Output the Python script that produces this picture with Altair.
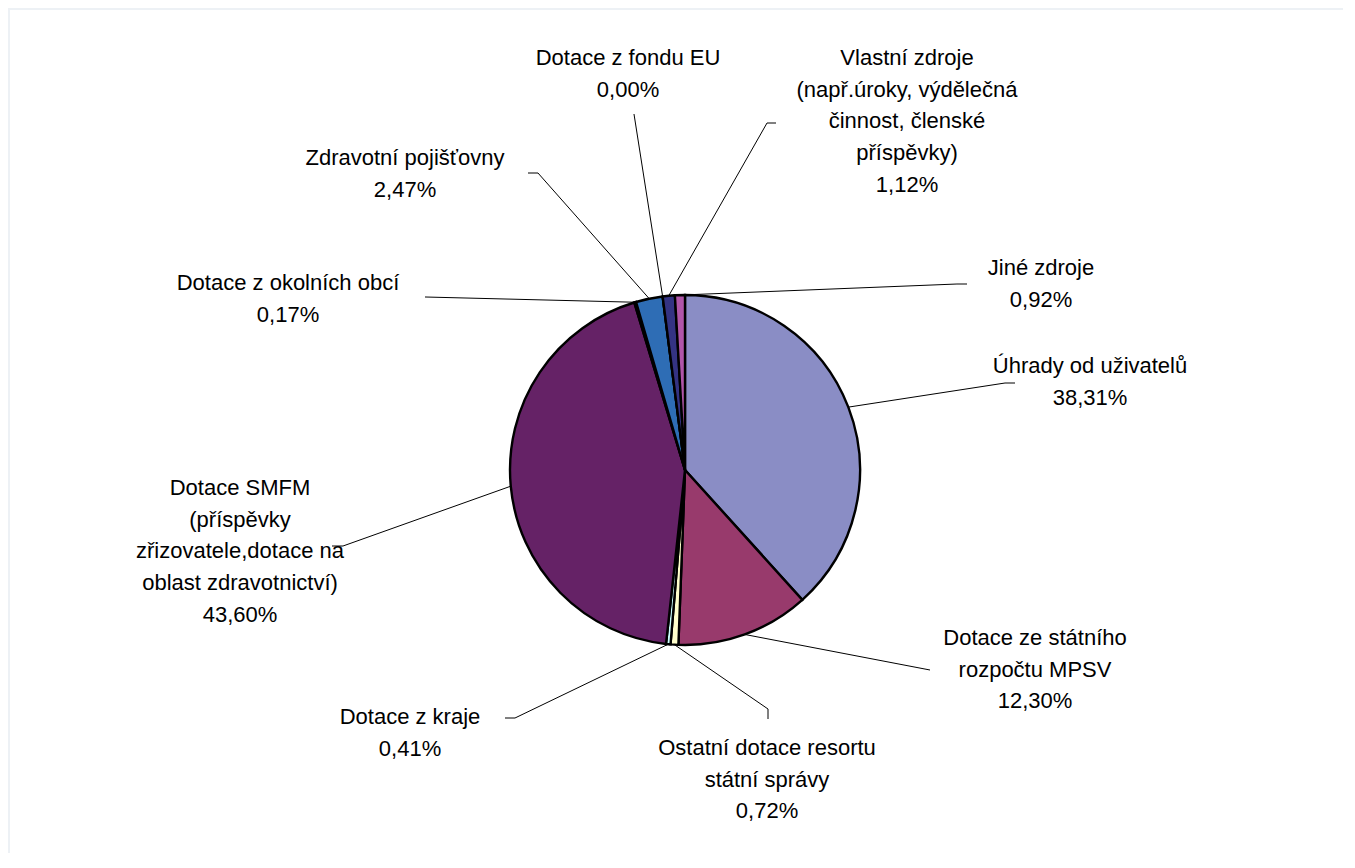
import math
import altair as alt
import pandas as pd

# ---- data -------------------------------------------------------------
categories = [
    "Úhrady od uživatelů",
    "Dotace ze státního rozpočtu MPSV",
    "Ostatní dotace resortu státní správy",
    "Dotace z kraje",
    "Dotace SMFM (příspěvky zřizovatele,dotace na oblast zdravotnictví)",
    "Dotace z okolních obcí",
    "Zdravotní pojišťovny",
    "Dotace z fondu EU",
    "Vlastní zdroje (např.úroky, výdělečná činnost, členské příspěvky)",
    "Jiné zdroje",
]
values = [38.31, 12.30, 0.72, 0.41, 43.60, 0.17, 2.47, 0.00, 1.12, 0.92]
label_texts = [
    "Úhrady od uživatelů\n38,31%",
    "Dotace ze státního\nrozpočtu MPSV\n12,30%",
    "Ostatní dotace resortu\nstátní správy\n0,72%",
    "Dotace z kraje\n0,41%",
    "Dotace SMFM\n(příspěvky\nzřizovatele,dotace na\noblast zdravotnictví)\n43,60%",
    "Dotace z okolních obcí\n0,17%",
    "Zdravotní pojišťovny\n2,47%",
    "Dotace z fondu EU\n0,00%",
    "Vlastní zdroje\n(např.úroky, výdělečná\nčinnost, členské\npříspěvky)\n1,12%",
    "Jiné zdroje\n0,92%",
]
colors = ["#8A8DC5", "#983A6C", "#FFFFCC", "#CCFFFF", "#652266",
          "#E07878", "#2E6DB5", "#CCCCFF", "#343383", "#B055A8"]

# ---- layout (chart pixel coordinates; page = chart + 8) ---------------
W, H = 1335, 845
CX, CY, R = 677, 462, 175
# label anchor (x centre, first-line baseline)
label_pos = [(1082, 365), (1027, 637), (759, 747), (402, 716), (232, 487),
             (280, 282), (397, 157), (620, 57), (899, 57), (1033, 267)]
# leader line elbow and end points
elbows = [(997, 375), (922, 662), (760, 701), (507, 710), (335, 538),
          (417, 289), (530, 165), (626, 106), (759, 115), (949, 276)]
ends = [(1007, 375), (922, 662), (760, 711), (497, 710), (324, 538),
        (417, 289), (520, 165), (626, 106), (768, 115), (959, 276)]

FONT = "Liberation Sans"
FS = 22
LH = 31.7

# ---- tables -------------------------------------------------------------
pie_df = pd.DataFrame({"cat": categories, "val": values, "ord": range(len(values))})

total = sum(values)
rows_a, rows_b, rows_t = [], [], []
cum = 0.0
for i, v in enumerate(values):
    mid = (cum + v / 2) / total * 2 * math.pi
    cum += v
    sx = CX + R * math.sin(mid)
    sy = CY - R * math.cos(mid)
    ex, ey = elbows[i]
    fx, fy = ends[i]
    rows_a.append({"x": sx, "y": sy, "x2": ex, "y2": ey})
    rows_b.append({"x": ex, "y": ey, "x2": fx, "y2": fy})
    lx, ly = label_pos[i]
    rows_t.append({"x": lx, "y": ly, "label": label_texts[i]})

lines_df = pd.DataFrame(rows_a + rows_b)
text_df = pd.DataFrame(rows_t)

# ---- chart ------------------------------------------------------------
panel = alt.Chart(pd.DataFrame({"a": [0]})).mark_rect(color="white").encode(
    x=alt.value(2), x2=alt.value(W), y=alt.value(2), y2=alt.value(H)
)

pie = alt.Chart(pie_df).mark_arc(radius=R, stroke="black", strokeWidth=2.4).encode(
    theta=alt.Theta("val:Q", stack=True),
    order=alt.Order("ord:Q"),
    color=alt.Color("cat:N", scale=alt.Scale(domain=categories, range=colors), legend=None),
    x=alt.value(CX),
    y=alt.value(CY),
)

leaders = alt.Chart(lines_df).mark_rule(color="black", strokeWidth=1).encode(
    x=alt.X("x:Q", scale=None), y=alt.Y("y:Q", scale=None),
    x2="x2:Q", y2="y2:Q",
)

labels = alt.Chart(text_df).mark_text(
    font=FONT, fontSize=FS, lineBreak="\n", lineHeight=LH,
    align="center", baseline="alphabetic", color="black",
).encode(
    x=alt.X("x:Q", scale=None), y=alt.Y("y:Q", scale=None), text="label:N"
)

chart = alt.layer(panel, pie, leaders, labels).properties(
    width=W, height=H, background="#EDF1F5", padding=0,
    autosize=alt.AutoSizeParams(type="none"),
).configure_view(stroke=None)

chart.save("out.html", embed_options={"renderer": "svg", "actions": False})
